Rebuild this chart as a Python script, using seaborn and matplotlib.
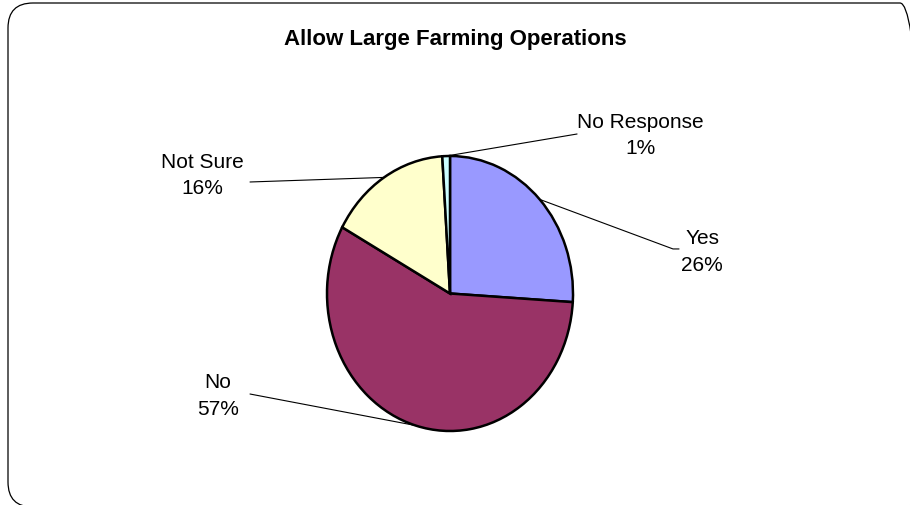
import matplotlib
matplotlib.use("Agg")
import matplotlib.pyplot as plt
from matplotlib.patches import FancyBboxPatch
from matplotlib.transforms import IdentityTransform
import numpy as np
import seaborn as sns

# Survey answers
categories = ["Yes", "No", "Not Sure", "No Response"]
shares = [26, 57, 16, 1]
slice_colors = ["#9999FF", "#993366", "#FFFFCC", "#CCFFFF"]
title = "Allow Large Farming Operations"

sns.set_theme(style="white")
plt.rcParams["font.family"] = ["Liberation Sans", "DejaVu Sans"]

W, H = 910, 506
fig = plt.figure(figsize=(W / 100, H / 100), dpi=100)

# Rounded chart-area frame (pixel units)
frame = FancyBboxPatch((8, -2), 917, 504,
                       boxstyle="round,pad=0,rounding_size=25",
                       transform=IdentityTransform(),
                       facecolor="none", edgecolor="black", lw=0.9,
                       zorder=-1)
fig.patches.append(frame)

# Pie axes, slightly taller than wide
left, right, top, bottom = 327, 573, 157, 432
ax = fig.add_axes([left / W, 1 - bottom / H, (right - left) / W, (bottom - top) / H])
ax.patch.set_alpha(0)
palette = sns.color_palette(slice_colors)
wedges, _ = ax.pie(shares, colors=palette, startangle=90, counterclock=False,
                   radius=1.0,
                   wedgeprops=dict(edgecolor="black", linewidth=1.8))
ax.set_aspect("auto")
ax.set_xlim(-1, 1)
ax.set_ylim(-1, 1)
ax.axis("off")

# Label placement (data units of the pie axes): leader end and text centre
label_layout = {
    "Yes": dict(line=[(1.813, 0.324), (1.862, 0.324)], text=(2.050, 0.309)),
    "No": dict(line=[(-1.626, -0.731)], text=(-1.886, -0.738)),
    "Not Sure": dict(line=[(-1.626, 0.811)], text=(-2.016, 0.865)),
    "No Response": dict(line=[(1.033, 1.160)], text=(1.550, 1.155)),
}

for wedge, cat, val in zip(wedges, categories, shares):
    mid = np.deg2rad((wedge.theta1 + wedge.theta2) / 2)
    edge = (np.cos(mid), np.sin(mid))
    lay = label_layout[cat]
    pts = [edge] + lay["line"]
    xs, ys = zip(*pts)
    ax.plot(xs, ys, color="black", lw=0.8, clip_on=False, zorder=0)
    ax.text(lay["text"][0], lay["text"][1], f"{cat}\n{val}%",
            ha="center", va="center", multialignment="center",
            fontsize=15, color="black", linespacing=1.5)

fig.text(0.5, 1 - 40 / H, title, ha="center", va="center",
         fontsize=16, fontweight="bold", color="black")

fig.savefig("out.png", dpi=100, facecolor="white")
